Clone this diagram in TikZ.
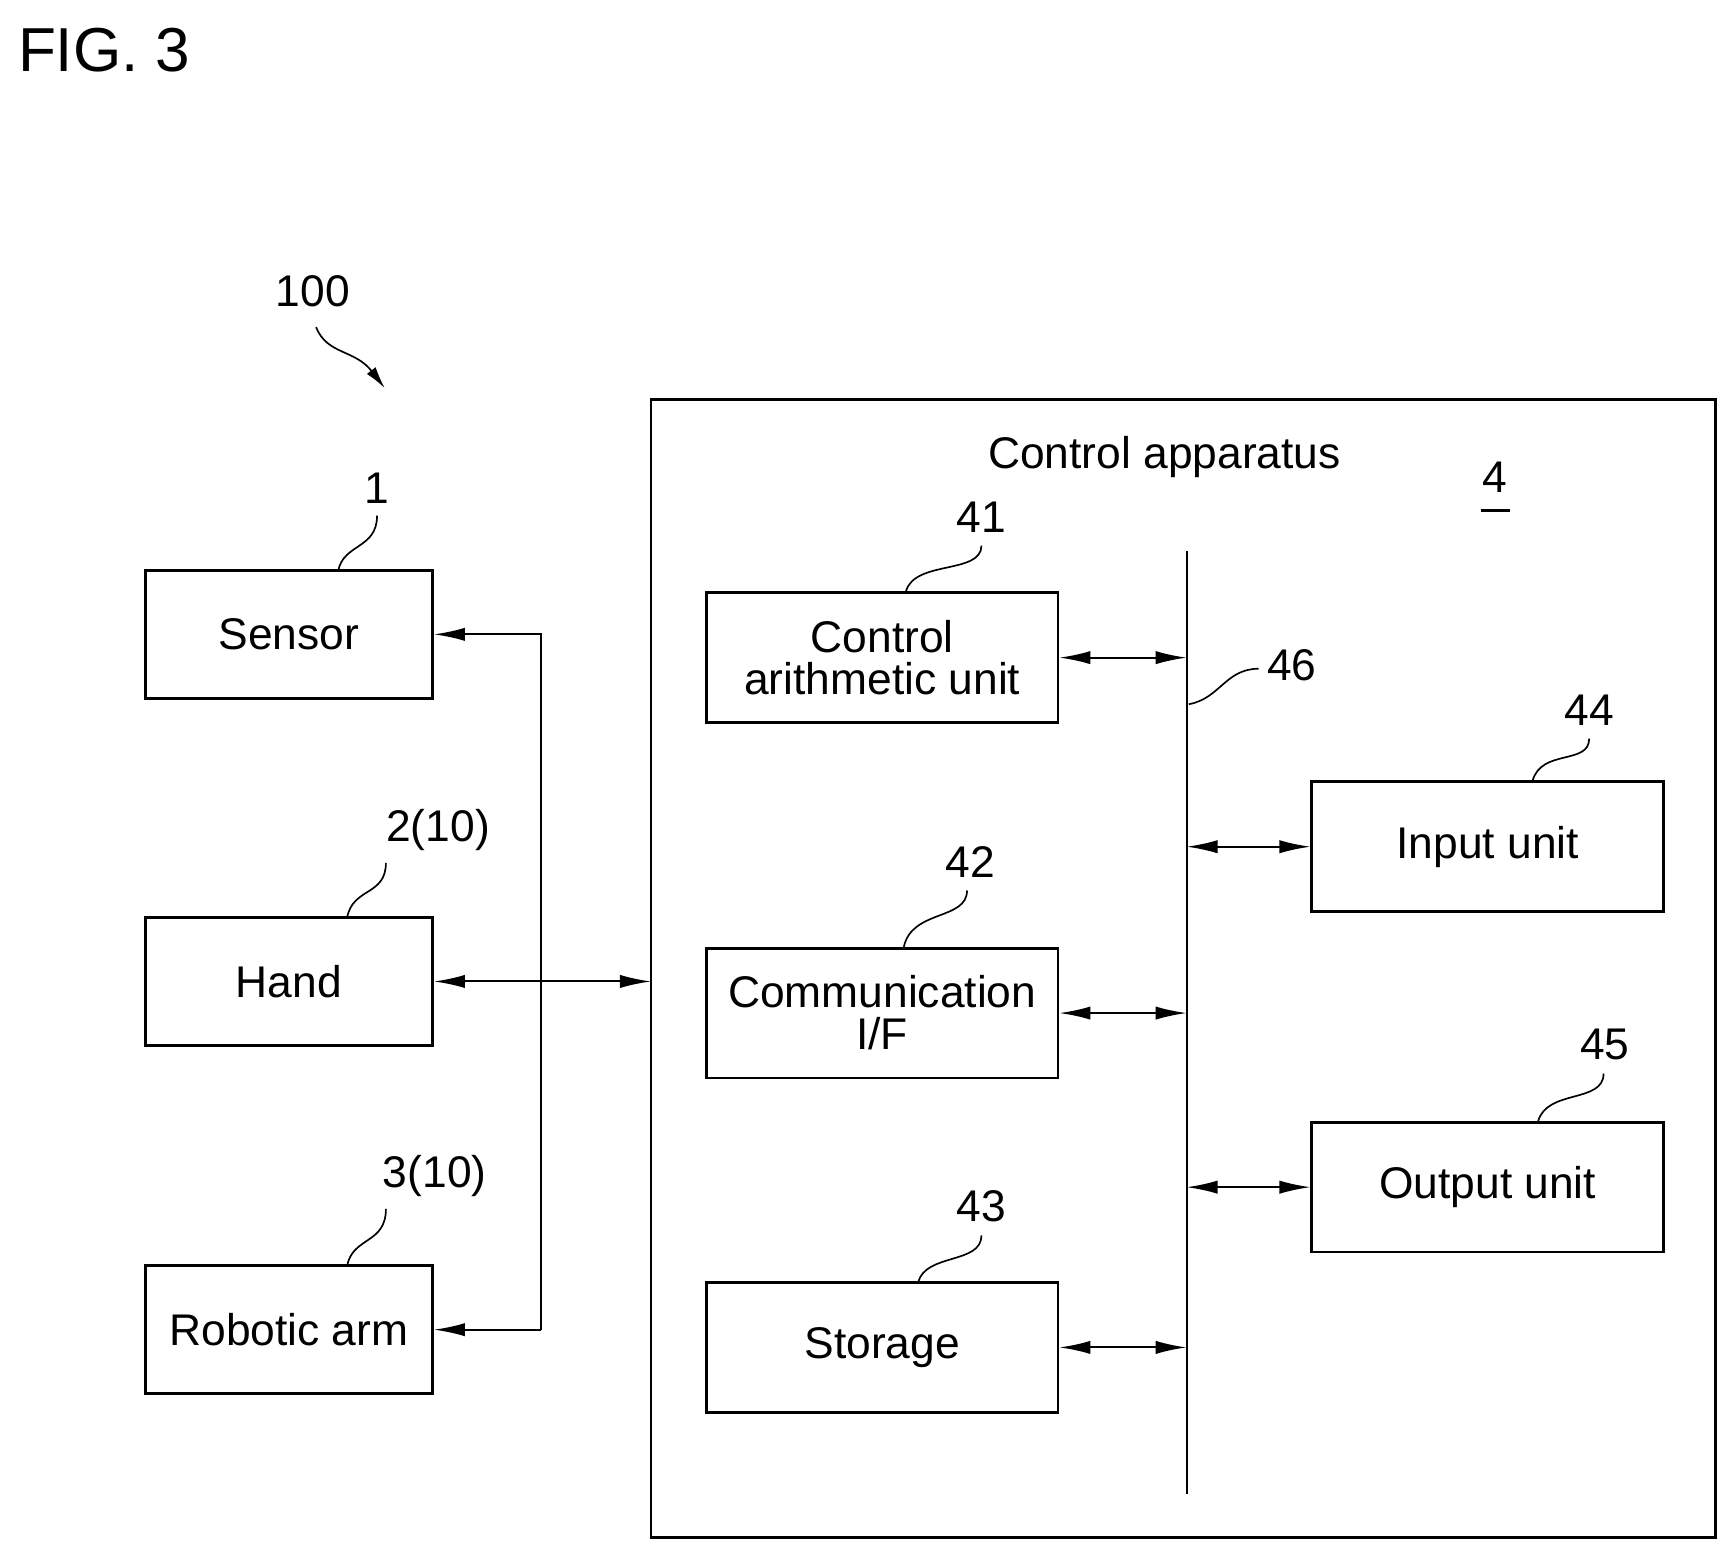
\documentclass[tikz,border=0pt]{standalone}
\usepackage{fontspec}
\setmainfont{Liberation Sans}
\usetikzlibrary{arrows.meta}
\tikzset{every picture/.style={line width=1.8pt}}
\tikzset{
  blk/.style={draw,line width=2.6pt,minimum width=259pt,minimum height=115pt,align=center,inner sep=0pt},
  blkb/.style={draw,line width=2.6pt,minimum width=317pt,minimum height=117pt,align=center,inner sep=0pt},
  num/.style={inner sep=1pt},
  tip/.tip={Latex[length=28pt,width=12pt]},
  link/.style={tip-tip},
  lead/.style={line width=1.5pt}
}
\begin{document}
\begin{tikzpicture}[x=1pt,y=1pt,yscale=-1,font=\fontsize{40}{44}\selectfont]
\useasboundingbox (0,0) rectangle (1560,1401);
% title
\node[anchor=west] (fig) at (12,45) {\fontsize{56}{60}\selectfont FIG. 3};
\node (sys) at (282,263) {100};
\draw[lead,-{Latex[length=20pt,width=10pt]}] (285,295) .. controls (295,320) and (320,315) .. (347,350);
% left blocks
\node[blk] (sensor) at (260.5,572) {Sensor};
\node[blk] (hand) at (260.5,885) {Hand};
\node[blk] (arm) at (260.5,1199) {Robotic arm};
\node[num] (n1) at (340,440) {1};
\node[num] (n2) at (395,748) {2(10)};
\node[num] (n3) at (392,1060) {3(10)};
\draw[lead] (305,514.5) .. controls (310,490) and (340,495) .. (340,465);
\draw[lead] (313,827.5) .. controls (318,800) and (348,808) .. (348,778);
\draw[lead] (313,1141.5) .. controls (318,1115) and (348,1122) .. (348,1090);
% control apparatus
\draw[line width=2.6pt] (587,360) rectangle (1547,1386);
\node (ctl) at (1050,412) {Control apparatus};
\node (n4) at (1348,430) {4};
\draw[line width=2.6pt] (1335,460) -- (1362,460);
\coordinate (bt) at (1070,497);
\coordinate (bb) at (1070,1347);
\draw (bt) -- (bb);
\node[num] (n46) at (1165,600) {46};
\draw[lead] (1072,635) .. controls (1100,630) and (1105,603) .. (1135,603);
\node[blkb] (cau) at (795.5,593) {Control\\[-6pt]arithmetic unit};
\node[blkb] (com) at (795.5,913.5) {Communication\\[-6pt]I/F};
\node[blkb] (sto) at (795.5,1215) {Storage};
\node[blkb] (inp) at (1341.5,763.5) {Input unit};
\node[blkb] (out) at (1341.5,1070.5) {Output unit};
\node[num] (n41) at (885,466) {41};
\node[num] (n42) at (875,777) {42};
\node[num] (n43) at (885,1088) {43};
\node[num] (n44) at (1433,640) {44};
\node[num] (n45) at (1447,942) {45};
\draw[lead] (817,533) .. controls (825,505) and (885,518) .. (885,492);
\draw[lead] (815,854) .. controls (822,820) and (872,830) .. (872,803);
\draw[lead] (828,1156) .. controls (835,1130) and (885,1140) .. (885,1114);
\draw[lead] (1382,704) .. controls (1390,675) and (1433,690) .. (1433,666);
\draw[lead] (1387,1011) .. controls (1395,982) and (1446,995) .. (1446,968);
% bus links
\draw[link] (cau.east) -- (cau.east -| bt);
\draw[link] (com.east) -- (com.east -| bt);
\draw[link] (sto.east) -- (sto.east -| bt);
\draw[link] (inp.west -| bt) -- (inp.west);
\draw[link] (out.west -| bt) -- (out.west);
% left links
\coordinate (jt) at (488,572);
\coordinate (jb) at (488,1199);
\draw[tip-] (sensor.east) -- (jt) -- (jb);
\draw[tip-] (arm.east) -- (jb);
\draw[link] (hand.east) -- (587,885);
\end{tikzpicture}
\end{document}
